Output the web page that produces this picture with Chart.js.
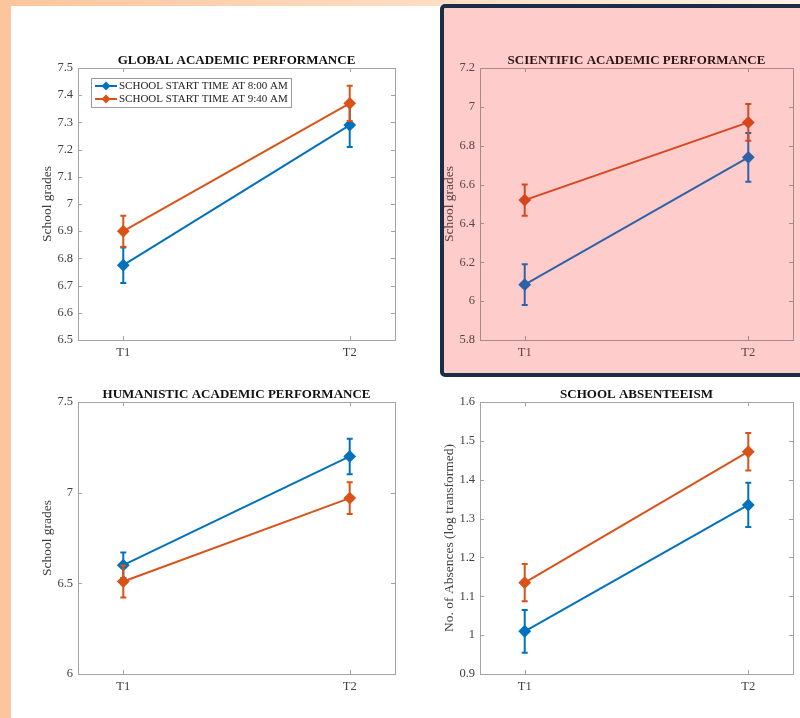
<!DOCTYPE html>
<html>
<head>
<meta charset="utf-8">
<script src="https://cdn.jsdelivr.net/npm/chart.js@4.4.0/dist/chart.umd.min.js"></script>
<style>
html, body { margin: 0; padding: 0; }
body {
  width: 800px; height: 718px; position: relative; overflow: hidden;
  background: linear-gradient(to right, #fcc59b 0%, #fdd9bd 45%, #fef0e4 100%);
}
#sheet { position: absolute; left: 11px; top: 6px; right: 0; bottom: 0; background: #fff; }
#hl {
  position: absolute; left: 440px; top: 4px; width: 372px; height: 365px;
  background: #ffcccc; border: 4px solid #1c2d48; border-radius: 5px;
}
canvas { position: absolute; }
</style>
</head>
<body>
<div id="sheet"></div>
<div id="hl"></div>
<canvas id="global" width="385" height="345" style="left:20px;top:20px"></canvas>
<canvas id="scientific" width="378" height="345" style="left:422px;top:20px"></canvas>
<canvas id="humanistic" width="385" height="345" style="left:20px;top:354px"></canvas>
<canvas id="absence" width="378" height="345" style="left:422px;top:354px"></canvas>
<script>
const timeLabels = ["T1", "T2"];
const seriesNames = ["SCHOOL START TIME AT 8:00 AM", "SCHOOL START TIME AT 9:40 AM"];

// means and error half-widths, 8:00 (early) vs 9:40 (late)
const globalEarly = [6.775, 7.29];
const globalEarlyErr = [0.065, 0.08];
const globalLate = [6.90, 7.37];
const globalLateErr = [0.057, 0.065];

const scientificEarly = [6.085, 6.74];
const scientificEarlyErr = [0.105, 0.125];
const scientificLate = [6.52, 6.92];
const scientificLateErr = [0.08, 0.095];

const humanisticEarly = [6.60, 7.20];
const humanisticEarlyErr = [0.07, 0.098];
const humanisticLate = [6.51, 6.97];
const humanisticLateErr = [0.088, 0.087];

const absenceEarly = [1.01, 1.335];
const absenceEarlyErr = [0.055, 0.057];
const absenceLate = [1.135, 1.472];
const absenceLateErr = [0.048, 0.048];

const SERIF = '"Liberation Serif", "DejaVu Serif", serif';

const panelPlugin = {
  id: "panel",
  beforeDatasetsDraw(chart, args, opts) {
    const { ctx, chartArea: a, scales: { x, y } } = chart;
    ctx.save();
    ctx.strokeStyle = opts.frame;
    ctx.lineWidth = 1;
    ctx.strokeRect(a.left + 0.5, a.top + 0.5, a.width, a.height);
    ctx.beginPath();
    y.ticks.forEach(t => {
      const py = Math.round(y.getPixelForValue(t.value)) + 0.5;
      ctx.moveTo(a.left, py); ctx.lineTo(a.left + 4, py);
      ctx.moveTo(a.right, py); ctx.lineTo(a.right - 4, py);
    });
    x.ticks.forEach(t => {
      const px = Math.round(x.getPixelForValue(t.value)) + 0.5;
      ctx.moveTo(px, a.bottom); ctx.lineTo(px, a.bottom - 4);
      ctx.moveTo(px, a.top); ctx.lineTo(px, a.top + 4);
    });
    ctx.stroke();
    ctx.fillStyle = opts.titleColor;
    ctx.font = "bold 13px " + SERIF;
    ctx.textAlign = "center";
    ctx.textBaseline = "middle";
    ctx.fillText(opts.title, (a.left + a.right) / 2, a.top - 7);
    ctx.restore();
  },
  afterDatasetDraw(chart, args) {
    const ds = chart.data.datasets[args.index];
    const { ctx, scales: { x, y } } = chart;
    ctx.save();
    ctx.strokeStyle = ds.borderColor;
    ctx.lineWidth = 2;
    ds.data.forEach((p, i) => {
      const e = ds.errors[i];
      const px = x.getPixelForValue(p.x);
      const y1 = y.getPixelForValue(p.y - e);
      const y2 = y.getPixelForValue(p.y + e);
      ctx.beginPath();
      ctx.moveTo(px, y1); ctx.lineTo(px, y2);
      ctx.moveTo(px - 3, y1); ctx.lineTo(px + 3, y1);
      ctx.moveTo(px - 3, y2); ctx.lineTo(px + 3, y2);
      ctx.stroke();
    });
    ctx.restore();
  },
  afterDraw(chart, args, opts) {
    if (!opts.legend) return;
    const { ctx, chartArea: a } = chart;
    const bx = a.left + 13, by = a.top + 10;
    ctx.save();
    ctx.fillStyle = "#fff";
    ctx.strokeStyle = "#9a9a9a";
    ctx.lineWidth = 1;
    ctx.fillRect(bx, by, 200, 29);
    ctx.strokeRect(bx + 0.5, by + 0.5, 200, 29);
    chart.data.datasets.forEach((ds, i) => {
      const ry = by + 8 + i * 13;
      ctx.strokeStyle = ds.borderColor;
      ctx.lineWidth = 2;
      ctx.beginPath();
      ctx.moveTo(bx + 4, ry); ctx.lineTo(bx + 26, ry);
      ctx.stroke();
      ctx.fillStyle = ds.borderColor;
      ctx.beginPath();
      ctx.moveTo(bx + 15, ry - 4.5); ctx.lineTo(bx + 19.5, ry);
      ctx.lineTo(bx + 15, ry + 4.5); ctx.lineTo(bx + 10.5, ry);
      ctx.closePath(); ctx.fill();
      ctx.fillStyle = "#222";
      ctx.font = "11px " + SERIF;
      ctx.textAlign = "left";
      ctx.textBaseline = "middle";
      ctx.fillText(ds.label, bx + 28, ry + 0.5);
    });
    ctx.restore();
  }
};

function series(label, values, errors, color, order) {
  return {
    label: label,
    data: values.map((v, i) => ({ x: i + 1, y: v })),
    errors: errors,
    borderColor: color,
    backgroundColor: color,
    borderWidth: 2,
    pointStyle: "rectRot",
    pointRadius: 5,
    pointHoverRadius: 5,
    tension: 0,
    order: order
  };
}

function makeChart(id, cfg) {
  const ctx = document.getElementById(id).getContext("2d");
  return new Chart(ctx, {
    type: "line",
    data: {
      datasets: [
        series(seriesNames[0], cfg.early, cfg.earlyErr, cfg.blue, 2),
        series(seriesNames[1], cfg.late, cfg.lateErr, cfg.orange, 1)
      ]
    },
    plugins: [panelPlugin],
    options: {
      responsive: false,
      animation: false,
      layout: { padding: { left: 15, top: 48, right: cfg.right, bottom: 0 } },
      plugins: {
        legend: { display: false },
        tooltip: { enabled: false },
        panel: { title: cfg.title, frame: cfg.frame, titleColor: cfg.titleColor, legend: cfg.legend }
      },
      scales: {
        x: {
          type: "linear",
          min: 0.8,
          max: 2.2,
          afterBuildTicks: s => { s.ticks = timeLabels.map((t, i) => ({ value: i + 1 })); },
          afterFit: s => { s.height = 25; },
          grid: { display: false, drawTicks: false },
          border: { display: false },
          ticks: {
            padding: 5,
            color: cfg.tickColor,
            font: { family: SERIF, size: 12.5 },
            callback: v => timeLabels[Math.round(v) - 1]
          }
        },
        y: {
          min: cfg.min,
          max: cfg.max,
          afterFit: s => { s.width = 43; },
          grid: { display: false, drawTicks: false },
          border: { display: false },
          ticks: {
            stepSize: cfg.step,
            padding: 5,
            color: cfg.tickColor,
            font: { family: SERIF, size: 12.5 },
            callback: v => String(+v.toFixed(2))
          },
          title: {
            display: true,
            text: cfg.yTitle,
            color: cfg.tickColor,
            padding: { top: 4, bottom: 0 },
            font: { family: SERIF, size: 13.5 }
          }
        }
      }
    }
  });
}

window.onload = () => {
  const plain = { blue: "#0072bd", orange: "#d95319", frame: "#a3a3a3", tickColor: "#404040", titleColor: "#111", right: 10 };
  const pink = { blue: "#2f62a6", orange: "#d7461c", frame: "#a88a8a", tickColor: "#5a4444", titleColor: "#2a1414", right: 4 };

  makeChart("global", Object.assign({}, plain, {
    title: "GLOBAL ACADEMIC PERFORMANCE", yTitle: "School grades",
    early: globalEarly, earlyErr: globalEarlyErr, late: globalLate, lateErr: globalLateErr,
    min: 6.5, max: 7.5, step: 0.1, legend: true
  }));
  makeChart("scientific", Object.assign({}, pink, {
    title: "SCIENTIFIC ACADEMIC PERFORMANCE", yTitle: "School grades",
    early: scientificEarly, earlyErr: scientificEarlyErr, late: scientificLate, lateErr: scientificLateErr,
    min: 5.8, max: 7.2, step: 0.2
  }));
  makeChart("humanistic", Object.assign({}, plain, {
    title: "HUMANISTIC ACADEMIC PERFORMANCE", yTitle: "School grades",
    early: humanisticEarly, earlyErr: humanisticEarlyErr, late: humanisticLate, lateErr: humanisticLateErr,
    min: 6, max: 7.5, step: 0.5
  }));
  makeChart("absence", Object.assign({}, plain, {
    right: 4,
    title: "SCHOOL ABSENTEEISM", yTitle: "No. of Absences (log transformed)",
    early: absenceEarly, earlyErr: absenceEarlyErr, late: absenceLate, lateErr: absenceLateErr,
    min: 0.9, max: 1.6, step: 0.1
  }));
};
</script>
</body>
</html>
